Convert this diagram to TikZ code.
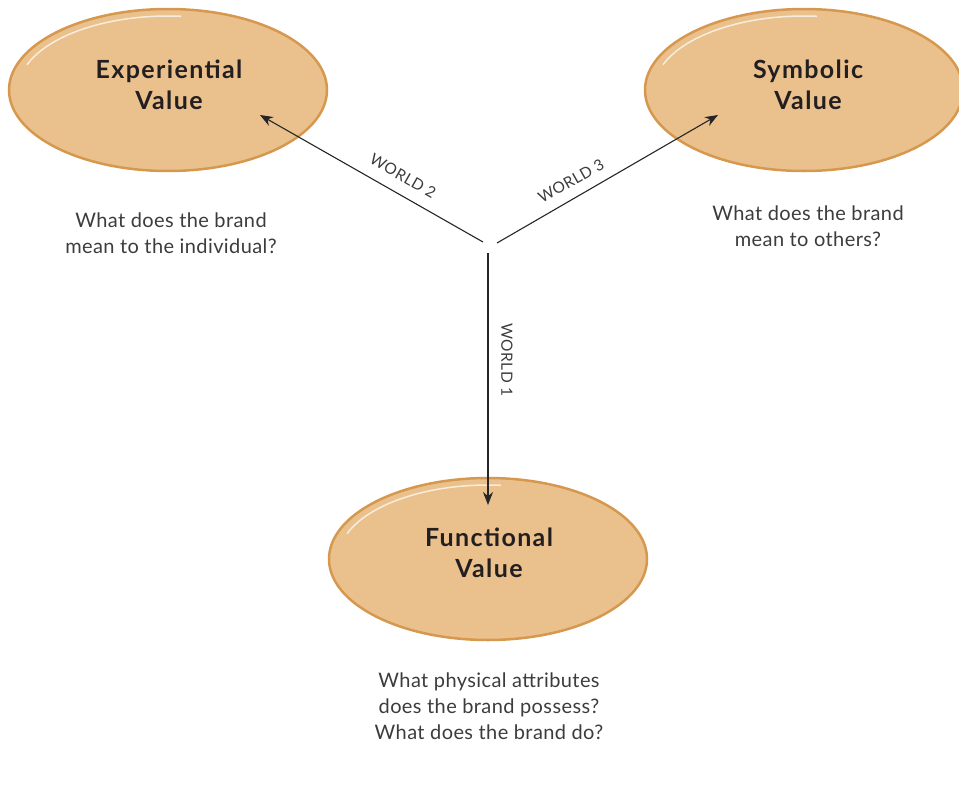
\documentclass[tikz,border=0pt]{standalone}
\usepackage{fontspec}
\setmainfont{Lato}
\usetikzlibrary{shapes.geometric,arrows.meta}
\definecolor{ovalfill}{RGB}{234,193,141}
\definecolor{ovalrim}{RGB}{214,152,78}
\definecolor{txtgray}{RGB}{60,60,60}
\definecolor{titlecol}{RGB}{35,31,32}
\tikzset{
  valueoval/.style={ellipse, fill=ovalfill, draw=ovalrim, line width=2.5pt,
    minimum width=318pt, minimum height=162pt, inner sep=0pt},
  titletext/.style={font=\fontsize{25}{31}\selectfont\bfseries\addfontfeatures{LetterSpace=5.5}, text=titlecol, align=center},
  qtext/.style={font=\fontsize{20}{25.8}\selectfont\addfontfeatures{LetterSpace=2}, text=txtgray, align=center},
  worldlabel/.style={font=\fontsize{15.5}{17}\selectfont\addfontfeatures{LetterSpace=3}, text=txtgray, inner sep=1pt},
  worldarrow/.style={-{Stealth[length=13pt,width=10pt]}, line width=1.1pt, draw=black!85}
}
\begin{document}
\begin{tikzpicture}[x=1pt,y=-1pt]
\useasboundingbox (0,0) rectangle (959,787);
\clip (0,0) rectangle (959,787);
% ovals
\node[valueoval] (exp) at (168,90) {};
\node[valueoval] (sym) at (804,90) {};
\node[valueoval] (fun) at (488,559) {};
% highlights
\foreach \n in {exp,sym,fun}{
  \draw[white, opacity=0.7, line width=1.5pt]
    (\n.center) ++(160:150pt and 74pt) arc[start angle=160, end angle=85, x radius=150pt, y radius=74pt];
}
% titles
\node[titletext] (expt) at (169,85) {Experiential\\Value};
\node[titletext] (symt) at (808,85) {Symbolic\\Value};
\node[titletext] (funt) at (489,553) {Functional\\Value};
% questions
\node[qtext] (expq) at (171,233) {What does the brand\\mean to the individual?};
\node[qtext] (symq) at (808,226) {What does the brand\\mean to others?};
\node[qtext] (funq) at (489,706) {What physical attributes\\does the brand possess?\\What does the brand do?};
% arrows
\coordinate (s2) at (483,242);
\coordinate (t2) at (260,115);
\coordinate (s3) at (497,243);
\coordinate (t3) at (718,115);
\coordinate (s1) at (488,253);
\coordinate (t1) at (488,505);
\draw[worldarrow] (s2) -- (t2);
\draw[worldarrow] (s3) -- (t3);
\draw[worldarrow] (s1) -- (t1);
% labels
\node[worldlabel, rotate=-29.7] (w2) at (403,176) {WORLD 2};
\node[worldlabel, rotate=29.7] (w3) at (571,181) {WORLD 3};
\node[worldlabel, rotate=-90] (w1) at (507,360) {WORLD 1};
\end{tikzpicture}
\end{document}
